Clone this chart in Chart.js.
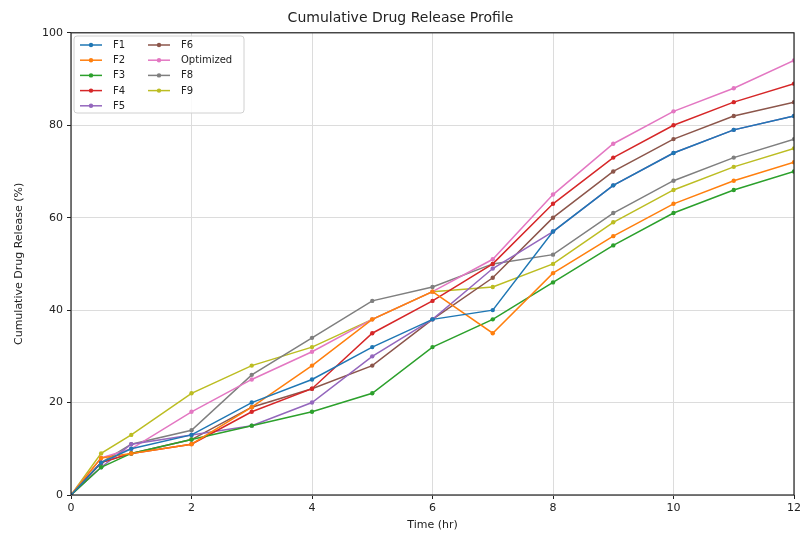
<!DOCTYPE html>
<html>
<head>
<meta charset="utf-8">
<script src="https://cdn.jsdelivr.net/npm/chart.js@4.4.0/dist/chart.umd.min.js"></script>
<style>
  html, body { margin: 0; padding: 0; background: #fff; }
</style>
</head>
<body>
<canvas id="chart" width="801" height="538"></canvas>
<script>
// Time points (hr) and cumulative release (%) per formulation
const TIMES = [0, 0.5, 1, 2, 3, 4, 5, 6, 7, 8, 9, 10, 11, 12];
const LABELS = ['F1', 'F2', 'F3', 'F4', 'F5', 'F6', 'Optimized', 'F8', 'F9'];

const F1 = [0, 7, 10, 13, 20, 25, 32, 38, 40, 57, 67, 74, 79, 82];
const F2 = [0, 8, 9, 11, 19, 28, 38, 44, 35, 48, 56, 63, 68, 72];
const F3 = [0, 6, 9, 12, 15, 18, 22, 32, 38, 46, 54, 61, 66, 70];
const F4 = [0, 7, 9, 11, 18, 23, 35, 42, 50, 63, 73, 80, 85, 89];
const F5 = [0, 6, 11, 13, 15, 20, 30, 38, 49, 57, 67, 74, 79, 82];
const F6 = [0, 7, 9, 12, 19, 23, 28, 38, 47, 60, 70, 77, 82, 85];
const OPTIMIZED = [0, 8, 10, 18, 25, 31, 38, 44, 51, 65, 76, 83, 88, 94];
const F8 = [0, 7, 11, 14, 26, 34, 42, 45, 50, 52, 61, 68, 73, 77];
const F9 = [0, 9, 13, 22, 28, 32, 38, 44, 45, 50, 59, 66, 71, 75];

const X_TICKS = [0, 2, 4, 6, 8, 10, 12];
const Y_TICKS = [0, 20, 40, 60, 80, 100];

const COLORS = ['#1f77b4', '#ff7f0e', '#2ca02c', '#d62728', '#9467bd',
                '#8c564b', '#e377c2', '#7f7f7f', '#bcbd22'];
const ALL = [F1, F2, F3, F4, F5, F6, OPTIMIZED, F8, F9];

const FONT = 'DejaVu Sans';

const datasets = ALL.map((vals, i) => ({
  label: LABELS[i],
  data: vals.map((v, k) => ({ x: TIMES[k], y: v })),
  borderColor: COLORS[i],
  backgroundColor: COLORS[i],
  borderWidth: 1.5,
  pointRadius: 2.2,
  pointBorderWidth: 0,
  tension: 0,
}));

// spines around the plot area
const frame = {
  id: 'frame',
  afterDatasetsDraw(chart) {
    const { ctx, chartArea: a } = chart;
    ctx.save();
    ctx.strokeStyle = '#222';
    ctx.lineWidth = 1.2;
    ctx.strokeRect(a.left, a.top, a.right - a.left, a.bottom - a.top);
    ctx.restore();
  },
};

// two-column legend, filled column by column
const legendBox = {
  id: 'legendBox',
  afterDraw(chart) {
    const { ctx } = chart;
    const x0 = 74, y0 = 36, w = 170, h = 77;
    ctx.save();
    ctx.fillStyle = 'rgba(255,255,255,0.85)';
    ctx.strokeStyle = '#d0d0d0';
    ctx.lineWidth = 1;
    ctx.beginPath();
    ctx.roundRect(x0, y0, w, h, 3);
    ctx.fill();
    ctx.stroke();
    ctx.font = '10px ' + FONT;
    ctx.textBaseline = 'middle';
    ctx.fillStyle = '#222';
    const rows = 5;
    chart.data.datasets.forEach((ds, i) => {
      const col = Math.floor(i / rows);
      const row = i % rows;
      const lx = col === 0 ? 80 : 148;
      const ly = 45 + row * 15.2;
      ctx.strokeStyle = ds.borderColor;
      ctx.lineWidth = 1.5;
      ctx.beginPath();
      ctx.moveTo(lx, ly);
      ctx.lineTo(lx + 22, ly);
      ctx.stroke();
      ctx.fillStyle = ds.borderColor;
      ctx.beginPath();
      ctx.arc(lx + 11, ly, 2.2, 0, Math.PI * 2);
      ctx.fill();
      ctx.fillStyle = '#222';
      ctx.fillText(ds.label, lx + 33, ly + 0.5);
    });
    ctx.restore();
  },
};

new Chart(document.getElementById('chart'), {
  type: 'line',
  data: { datasets },
  plugins: [frame, legendBox],
  options: {
    responsive: false,
    animation: false,
    layout: { padding: { top: 2, right: 0, left: 0, bottom: 0 } },
    plugins: {
      legend: { display: false },
      tooltip: { enabled: false },
      title: {
        display: true,
        text: 'Cumulative Drug Release Profile',
        color: '#222',
        font: { family: FONT, size: 14, weight: 'normal' },
        padding: { top: 8, bottom: 6 },
      },
    },
    scales: {
      x: {
        type: 'linear',
        min: 0,
        max: 12,
        afterFit: (s) => { s.height = 43; s.paddingRight = 7; s.paddingLeft = 0; },
        afterBuildTicks: (s) => { s.ticks = X_TICKS.map((v) => ({ value: v })); },
        grid: { color: '#dcdcdc', tickColor: '#222', tickLength: 4 },
        border: { display: false },
        ticks: { color: '#222', padding: 3, maxRotation: 0, font: { family: FONT, size: 11 } },
        title: {
          display: true,
          text: 'Time (hr)',
          color: '#222',
          font: { family: FONT, size: 11 },
          padding: { top: 0, bottom: 6 },
        },
      },
      y: {
        min: 0,
        max: 100,
        afterFit: (s) => { s.width = 71; },
        afterBuildTicks: (s) => { s.ticks = Y_TICKS.map((v) => ({ value: v })); },
        grid: { color: '#dcdcdc', tickColor: '#222', tickLength: 4 },
        border: { display: false },
        ticks: { color: '#222', padding: 4, font: { family: FONT, size: 11 } },
        title: {
          display: true,
          text: 'Cumulative Drug Release (%)',
          color: '#222',
          font: { family: FONT, size: 11 },
          padding: { top: 13, bottom: 0 },
        },
      },
    },
  },
});
</script>
</body>
</html>
